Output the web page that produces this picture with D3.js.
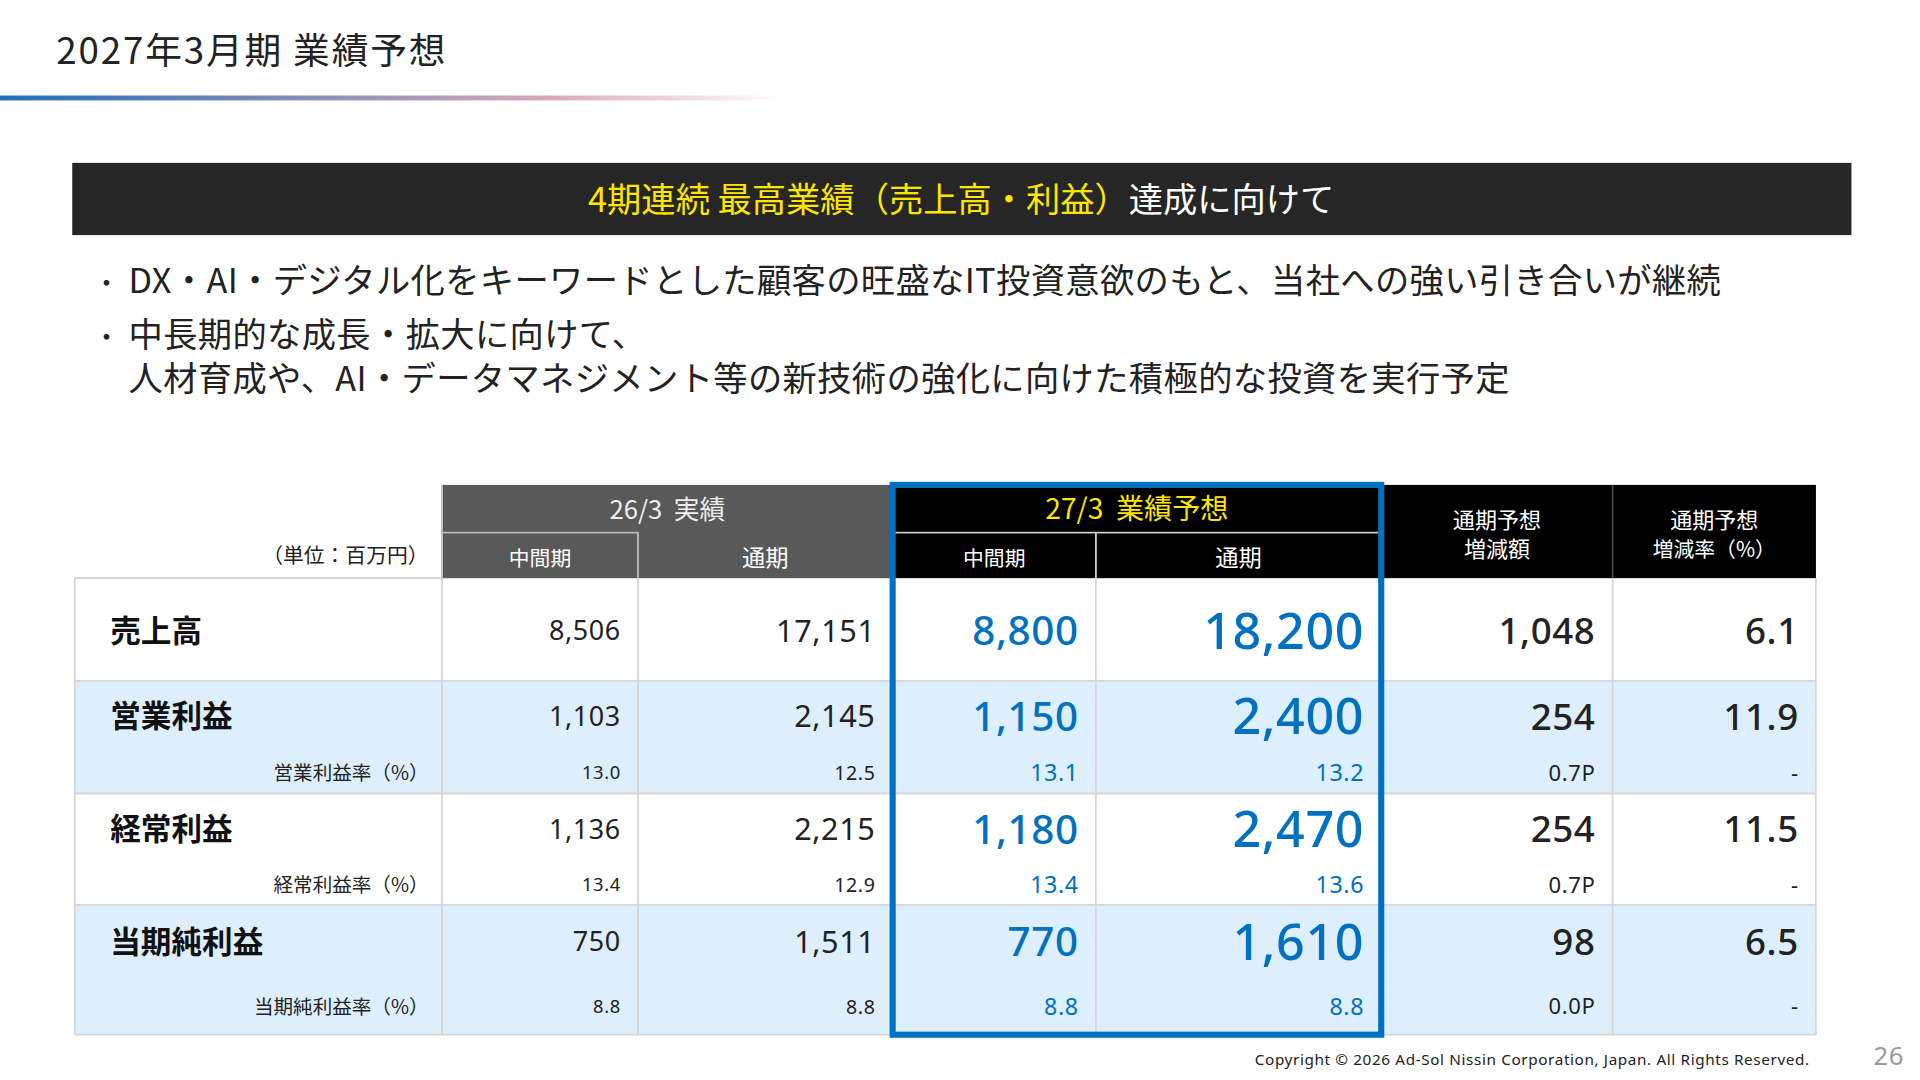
<!DOCTYPE html>
<html lang="ja">
<head>
<meta charset="UTF-8">
<title>2027年3月期 業績予想</title>
<script src="https://d3js.org/d3.v7.min.js"></script>
<style>
  body { margin: 0; background: #fff; }
  svg { display: block; font-family: "Noto Sans CJK JP", "Noto Sans", sans-serif; }
  .num { font-family: "Noto Sans", "Noto Sans CJK JP", sans-serif; letter-spacing: 0.5px; }
</style>
</head>
<body>
<div id="chart"></div>
<script>
// data
const metrics = ["売上高", "営業利益", "経常利益", "当期純利益"];
const ratioLabels = [null, "営業利益率（%）", "経常利益率（%）", "当期純利益率（%）"];
const actualHalf = ["8,506", "1,103", "1,136", "750"];
const actualFull = ["17,151", "2,145", "2,215", "1,511"];
const fcHalf = ["8,800", "1,150", "1,180", "770"];
const fcFull = ["18,200", "2,400", "2,470", "1,610"];
const diffAmt = ["1,048", "254", "254", "98"];
const diffRate = ["6.1", "11.9", "11.5", "6.5"];
const ratioActualHalf = [null, "13.0", "13.4", "8.8"];
const ratioActualFull = [null, "12.5", "12.9", "8.8"];
const ratioFcHalf = [null, "13.1", "13.4", "8.8"];
const ratioFcFull = [null, "13.2", "13.6", "8.8"];
const ratioDiff = [null, "0.7P", "0.7P", "0.0P"];
const ratioRate = [null, "-", "-", "-"];
const bullets = [
  ["・", "DX・AI・デジタル化をキーワードとした顧客の旺盛なIT投資意欲のもと、当社への強い引き合いが継続"],
  ["・", "中長期的な成長・拡大に向けて、"],
  ["", "人材育成や、AI・データマネジメント等の新技術の強化に向けた積極的な投資を実行予定"]
];

const W = 1568, H = 882;
const svg = d3.select("#chart").append("svg")
  .attr("width", 1920).attr("height", 1080)
  .attr("viewBox", `0 0 ${W} ${H}`);

const BLUE = "#0070c0";

// title + gradient rule
svg.append("text").attr("x", 46).attr("y", 52).attr("font-size", 30).attr("letter-spacing", 1.5)
  .attr("fill", "#222").text("2027年3月期 業績予想");
const grad = svg.append("defs").append("linearGradient").attr("id", "rule");
grad.append("stop").attr("offset", "0%").attr("stop-color", "#1f6fb8");
grad.append("stop").attr("offset", "30%").attr("stop-color", "#6f86b8");
grad.append("stop").attr("offset", "70%").attr("stop-color", "#d8a8b8");
grad.append("stop").attr("offset", "100%").attr("stop-color", "#ffffff");
svg.append("rect").attr("x", 0).attr("y", 78).attr("width", 640).attr("height", 4).attr("fill", "url(#rule)");

// banner
svg.append("rect").attr("x", 59).attr("y", 133).attr("width", 1453).attr("height", 59).attr("fill", "#262626");
const bt = svg.append("text").attr("x", 785).attr("y", 173).attr("text-anchor", "middle").attr("font-size", 28);
bt.append("tspan").attr("fill", "#ffe600").text("4期連続 最高業績（売上高・利益）");
bt.append("tspan").attr("fill", "#fff").text("達成に向けて");

// bullets
const by = [239, 283, 319];
bullets.forEach((b, i) => {
  if (b[0]) svg.append("text").attr("x", 76).attr("y", by[i]).attr("font-size", 22).attr("fill", "#222").text(b[0]);
  svg.append("text").attr("x", 105).attr("y", by[i]).attr("font-size", 28).attr("letter-spacing", 0.3)
    .attr("fill", "#222").text(b[1]);
});

// table geometry
const colX = [61, 361, 521, 729, 895, 1128, 1317, 1483];
const x = d3.scaleOrdinal().domain(d3.range(8)).range(colX);
const rowY = [472, 556, 648, 739, 845];
const mainH = [86, 58, 58, 60];
const y = d3.scaleOrdinal().domain(d3.range(5)).range(rowY);

// row backgrounds
metrics.forEach((m, i) => {
  if (i % 2 === 1) svg.append("rect").attr("x", x(0)).attr("y", y(i)).attr("width", x(7) - x(0))
    .attr("height", y(i + 1) - y(i)).attr("fill", "#ddeefc");
});

// grid
const grid = svg.append("g").attr("stroke", "#d6d6d6").attr("stroke-width", 1.5);
colX.forEach(cx => grid.append("line").attr("x1", cx).attr("x2", cx).attr("y1", 472).attr("y2", 845));
rowY.forEach(ry => grid.append("line").attr("x1", x(0)).attr("x2", x(7)).attr("y1", ry).attr("y2", ry));

// header
svg.append("rect").attr("x", x(1)).attr("y", 396).attr("width", x(3) - x(1)).attr("height", 76).attr("fill", "#595959");
svg.append("rect").attr("x", x(3)).attr("y", 396).attr("width", x(7) - x(3)).attr("height", 76).attr("fill", "#000");
const hl = svg.append("g").attr("stroke", "#bbb").attr("stroke-width", 1.5).attr("fill", "none");
hl.append("path").attr("d", `M${x(1)},396V472M${x(1)},435H${x(2)}V472`);
hl.append("path").attr("d", `M${x(3)},435H${x(5)}M${x(4)},435V472`).attr("stroke", "#ccc");
svg.append("line").attr("x1", x(6)).attr("x2", x(6)).attr("y1", 396).attr("y2", 472).attr("stroke", "#444").attr("stroke-width", 1.5);

const hdr = (t, cx, cy, size, fill) => svg.append("text").attr("x", cx).attr("y", cy)
  .attr("text-anchor", "middle").attr("font-size", size).attr("fill", fill).text(t);
hdr("26/3  実績", (x(1) + x(3)) / 2, 424, 21, "#eee").attr("xml:space", "preserve");
hdr("27/3  業績予想", (x(3) + x(5)) / 2, 424, 23, "#ffe600").attr("xml:space", "preserve");
hdr("中間期", (x(1) + x(2)) / 2, 462, 17, "#fff");
hdr("通期", (x(2) + x(3)) / 2, 462, 19, "#fff");
hdr("中間期", (x(3) + x(4)) / 2, 462, 17, "#fff");
hdr("通期", (x(4) + x(5)) / 2, 462, 19, "#fff");
hdr("通期予想", (x(5) + x(6)) / 2, 431, 18, "#fff");
hdr("増減額", (x(5) + x(6)) / 2, 455, 18, "#fff");
hdr("通期予想", (x(6) + x(7)) / 2, 431, 18, "#fff");
hdr("増減率（%）", (x(6) + x(7)) / 2, 455, 17, "#fff");
svg.append("text").attr("x", 350).attr("y", 460).attr("text-anchor", "end").attr("font-size", 17)
  .attr("fill", "#222").text("（単位：百万円）");

// body cells
const mainCols = [
  { v: actualHalf, size: 22, fill: "#222" },
  { v: actualFull, size: 25, fill: "#222" },
  { v: fcHalf, size: 33, fill: BLUE },
  { v: fcFull, size: 41, fill: BLUE },
  { v: diffAmt, size: 30, fill: "#222" },
  { v: diffRate, size: 30, fill: "#222" }
];
const subCols = [
  { v: ratioActualHalf, fill: "#222", size: 15 }, { v: ratioActualFull, fill: "#222", size: 16 },
  { v: ratioFcHalf, fill: BLUE, size: 19 }, { v: ratioFcFull, fill: BLUE, size: 19 },
  { v: ratioDiff, fill: "#222", size: 18 }, { v: ratioRate, fill: "#222", size: 18 }
];
metrics.forEach((m, i) => {
  const cy = y(i) + mainH[i] / 2;
  svg.append("text").attr("x", 90).attr("y", cy).attr("dy", "0.36em").attr("font-size", 25)
    .attr("font-weight", "bold").attr("fill", "#111").text(m);
  mainCols.forEach((c, j) => {
    svg.append("text").attr("class", "num").attr("x", x(j + 2) - 14).attr("y", cy).attr("dy", "0.36em")
      .attr("text-anchor", "end").attr("font-size", c.size).attr("fill", c.fill)
      .attr("font-weight", j >= 2 ? 500 : 400).text(c.v[i]);
  });
  if (ratioLabels[i]) {
    const sy = y(i) + mainH[i] + (y(i + 1) - y(i) - mainH[i]) / 2;
    svg.append("text").attr("x", 350).attr("y", sy).attr("dy", "0.36em").attr("text-anchor", "end")
      .attr("font-size", 16).attr("fill", "#222").text(ratioLabels[i]);
    subCols.forEach((c, j) => {
      svg.append("text").attr("class", "num").attr("x", x(j + 2) - 14).attr("y", sy).attr("dy", "0.36em")
        .attr("text-anchor", "end").attr("font-size", c.size).attr("fill", c.fill).text(c.v[i]);
    });
  }
});

// forecast highlight box
svg.append("rect").attr("x", 729).attr("y", 396).attr("width", 1128 - 729).attr("height", 449)
  .attr("fill", "none").attr("stroke", BLUE).attr("stroke-width", 5);

// footer
svg.append("text").attr("class", "num").attr("x", 1478).attr("y", 870).attr("text-anchor", "end").attr("font-size", 12.5)
  .attr("fill", "#222").text("Copyright © 2026 Ad-Sol Nissin Corporation, Japan. All Rights Reserved.");
svg.append("text").attr("class", "num").attr("x", 1555).attr("y", 870).attr("text-anchor", "end").attr("font-size", 21)
  .attr("fill", "#999").text("26");
</script>
</body>
</html>
